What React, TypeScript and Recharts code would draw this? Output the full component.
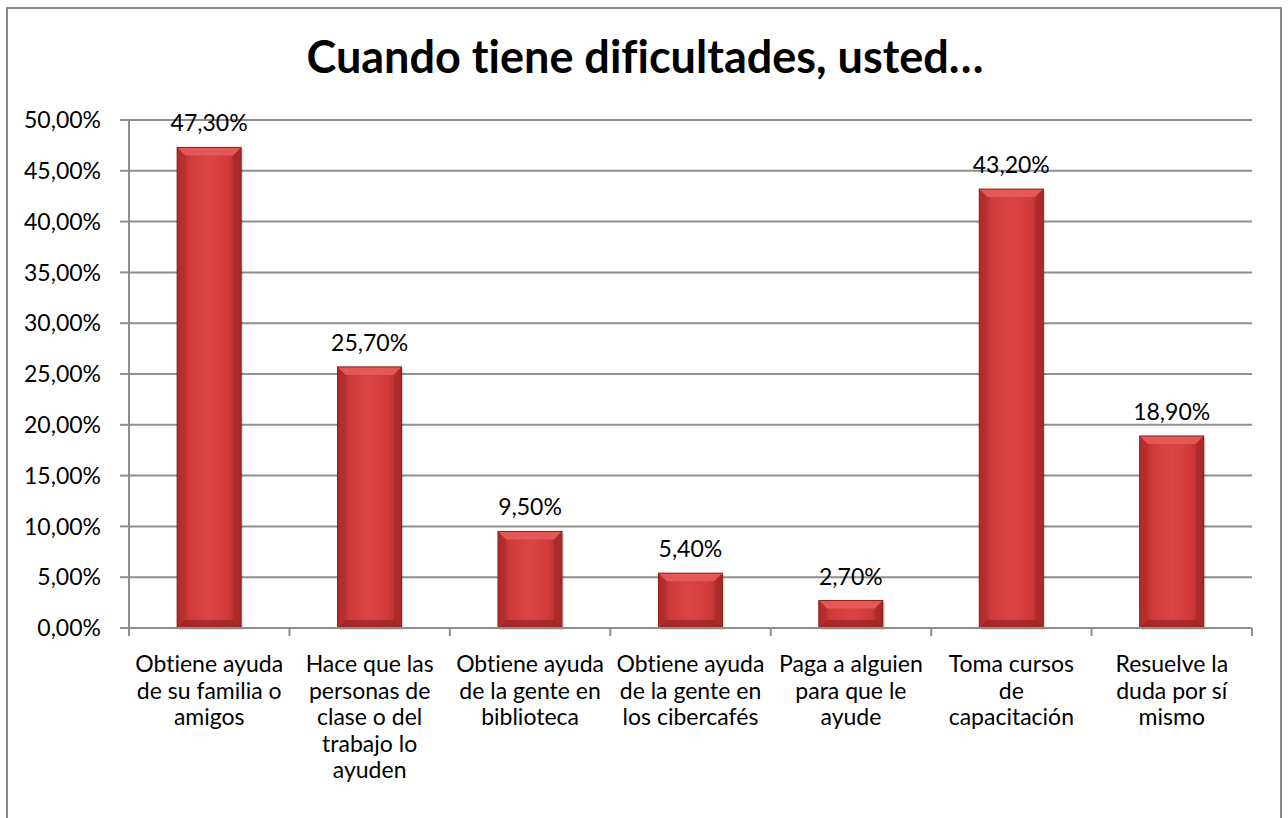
import React from 'react';
import { BarChart, Bar, XAxis, YAxis, CartesianGrid, LabelList } from 'recharts';

// categories as Excel wrapped them
const categories = [
  'Obtiene ayuda\nde su familia o\namigos',
  'Hace que las\npersonas de\nclase o del\ntrabajo lo\nayuden',
  'Obtiene ayuda\nde la gente en\nbiblioteca',
  'Obtiene ayuda\nde la gente en\nlos cibercafés',
  'Paga a alguien\npara que le\nayude',
  'Toma cursos\nde\ncapacitación',
  'Resuelve la\nduda por sí\nmismo',
];
const values = [47.3, 25.7, 9.5, 5.4, 2.7, 43.2, 18.9];
const yTicks = [0, 5, 10, 15, 20, 25, 30, 35, 40, 45, 50];
const boundaryTicks = [0, 1, 2, 3, 4, 5, 6, 7];

const data = categories.map((name, i) => ({ name, value: values[i] }));

const FONT = 'Lato, "Open Sans", sans-serif';
const GRID = '#8e8e8e';

const pct = (v: number) => v.toFixed(2).replace('.', ',') + '%';

const BevelBar = (props: any) => {
  const { x, y, width, height } = props;
  if (!height || height <= 0) return null;
  const b = Math.min(8, height / 2, width / 2);
  return (
    <g>
      <rect x={x + 2} y={y + 2} width={width} height={height} fill="#000" opacity={0.12} />
      <rect x={x} y={y} width={width} height={height} fill="url(#barFace)" />
      <polygon points={`${x},${y} ${x + width},${y} ${x + width - b},${y + b} ${x + b},${y + b}`} fill="#e45858" />
      <polygon points={`${x},${y} ${x + b},${y + b} ${x + b},${y + height - b} ${x},${y + height}`} fill="#b32d2d" opacity={0.7} />
      <polygon points={`${x + width},${y} ${x + width - b},${y + b} ${x + width - b},${y + height - b} ${x + width},${y + height}`} fill="#a82a2a" opacity={0.7} />
      <polygon points={`${x},${y + height} ${x + b},${y + height - b} ${x + width - b},${y + height - b} ${x + width},${y + height}`} fill="#9c2424" opacity={0.8} />
      <rect x={x} y={y} width={width} height={height} fill="none" stroke="#8a1e1e" strokeWidth={1} />
    </g>
  );
};

const CategoryTick = (props: any) => {
  const { x, y, payload } = props;
  const lines = String(payload.value).split('\n');
  return (
    <text x={x} y={y} textAnchor="middle" fontFamily={FONT} fontSize={23} fill="#000">
      {lines.map((ln, i) => (
        <tspan key={i} x={x} dy={i === 0 ? 26 : 26.5}>{ln}</tspan>
      ))}
    </text>
  );
};

export default function App() {
  return (
    <div
      style={{
        position: 'absolute', left: 0, top: 0, width: 1288, height: 818, background: '#fff',
        overflow: 'hidden', fontVariantLigatures: 'none', fontFeatureSettings: '"liga" 0, "clig" 0',
      }}
    >
      <div
        style={{
          position: 'absolute', left: 6, top: 7, width: 1272, height: 830,
          border: '2px solid #878787',
        }}
      />
      <div
        style={{
          position: 'absolute', left: 0, top: 29, width: 1290, textAlign: 'center',
          fontFamily: FONT, fontWeight: 700, fontSize: 45, lineHeight: 'normal', color: '#000',
        }}
      >
        Cuando tiene dificultades, usted…
      </div>
      <div style={{ position: 'absolute', left: 0, top: 0 }}>
        <BarChart
          width={1288}
          height={818}
          data={data}
          margin={{ top: 120, right: 36, bottom: 10, left: 29 }}
          barCategoryGap="30%"
        >
          <defs>
            <linearGradient id="barFace" x1="0" y1="0" x2="1" y2="0">
              <stop offset="0%" stopColor="#a82828" />
              <stop offset="20%" stopColor="#cf3a3a" />
              <stop offset="50%" stopColor="#dc4545" />
              <stop offset="80%" stopColor="#cf3a3a" />
              <stop offset="100%" stopColor="#a82828" />
            </linearGradient>
          </defs>
          <CartesianGrid vertical={false} stroke={GRID} strokeWidth={2} />
          <XAxis
            xAxisId="bounds"
            type="number"
            dataKey={() => 0}
            domain={[0, 7]}
            ticks={boundaryTicks}
            height={10}
            stroke={GRID}
            strokeWidth={2}
            tickSize={8}
            tick={() => <g />}
            allowDataOverflow
          />
          <XAxis
            xAxisId="cat"
            dataKey="name"
            height={170}
            axisLine={false}
            tickLine={false}
            interval={0}
            tick={<CategoryTick />}
          />
          <YAxis
            domain={[0, 50]}
            ticks={yTicks}
            width={100}
            stroke={GRID}
            strokeWidth={2}
            tickSize={9}
            tickMargin={19}
            tickFormatter={pct}
            tick={{ fontFamily: FONT, fontSize: 23, fill: '#000' }}
            interval={0}
          />
          <Bar xAxisId="cat" dataKey="value" shape={<BevelBar />} isAnimationActive={false}>
            <LabelList
              dataKey="value"
              position="top"
              offset={16}
              formatter={(v: any) => pct(Number(v))}
              style={{ fontFamily: FONT, fontSize: 23, fill: '#000' }}
            />
          </Bar>
        </BarChart>
      </div>
    </div>
  );
}
